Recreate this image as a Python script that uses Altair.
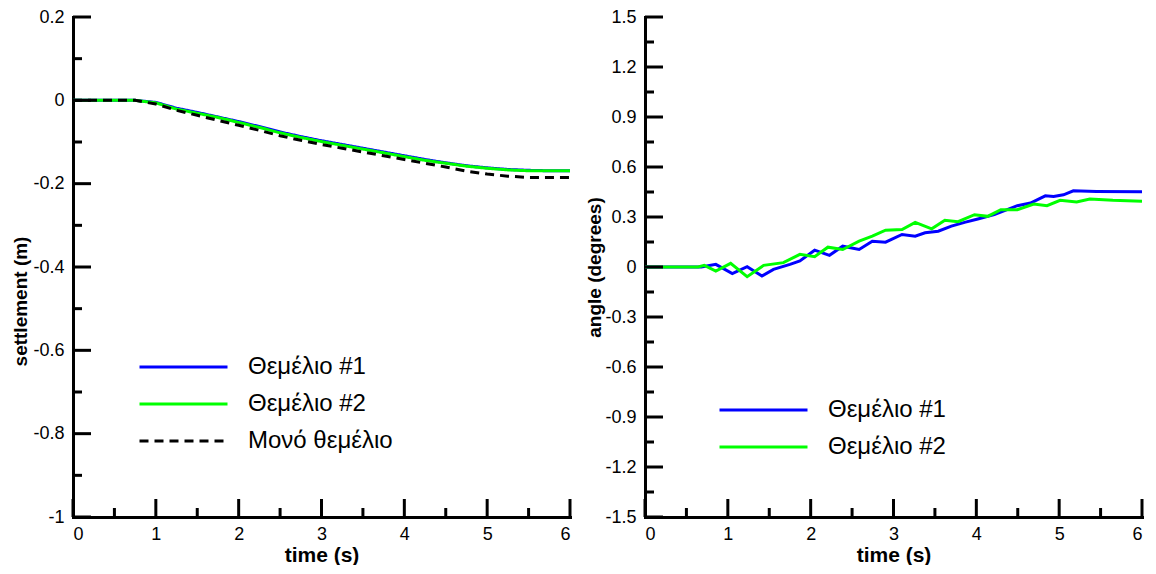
import altair as alt
import pandas as pd

FONT = "Liberation Sans"

# ---------------- data ----------------
t_left = [0.0, 0.25, 0.5, 0.75, 1.0, 1.25, 1.5, 1.75, 2.0, 2.25, 2.5, 2.75, 3.0,
          3.25, 3.5, 3.75, 4.0, 4.25, 4.5, 4.75, 5.0, 5.25, 5.5, 5.75, 6.0]
settle_f1 = [0.0, 0.0, 0.0, 0.0, -0.005, -0.019, -0.029, -0.040, -0.051, -0.063, -0.076,
             -0.087, -0.097, -0.106, -0.115, -0.124, -0.133, -0.142, -0.150, -0.157,
             -0.162, -0.166, -0.168, -0.169, -0.169]
settle_f2 = [0.0, 0.0, 0.0, 0.0, -0.006, -0.021, -0.031, -0.041, -0.053, -0.065, -0.078,
             -0.089, -0.099, -0.108, -0.117, -0.126, -0.135, -0.144, -0.151, -0.158,
             -0.163, -0.167, -0.169, -0.169, -0.169]
settle_single = [0.0, 0.0, 0.0, 0.0, -0.009, -0.024, -0.036, -0.048, -0.060, -0.072, -0.085,
                 -0.096, -0.106, -0.115, -0.124, -0.133, -0.142, -0.151, -0.160, -0.170,
                 -0.177, -0.182, -0.185, -0.185, -0.185]

t_ang1 = [0.0, 0.68, 0.855, 1.054, 1.233, 1.412, 1.551, 1.75, 1.87, 2.048, 2.227, 2.387,
          2.585, 2.744, 2.904, 3.103, 3.262, 3.381, 3.54, 3.699, 3.858, 4.018, 4.217,
          4.495, 4.654, 4.833, 4.933, 5.052, 5.171, 5.45, 6.0]
angle_f1 = [0.0, 0.0, 0.016, -0.040, 0.002, -0.054, -0.014, 0.016, 0.036, 0.101, 0.070,
            0.125, 0.105, 0.155, 0.149, 0.195, 0.185, 0.205, 0.215, 0.245, 0.268, 0.288,
            0.314, 0.368, 0.384, 0.427, 0.423, 0.433, 0.457, 0.453, 0.451]
t_ang2 = [0.0, 0.64, 0.716, 0.855, 1.034, 1.233, 1.432, 1.671, 1.87, 2.048, 2.208, 2.387,
          2.585, 2.744, 2.904, 3.103, 3.262, 3.461, 3.62, 3.779, 3.978, 4.137, 4.296,
          4.495, 4.694, 4.853, 5.012, 5.211, 5.37, 5.648, 6.0]
angle_f2 = [0.0, 0.0, 0.010, -0.024, 0.022, -0.058, 0.010, 0.026, 0.076, 0.062, 0.119,
            0.105, 0.155, 0.185, 0.221, 0.225, 0.268, 0.229, 0.280, 0.272, 0.314, 0.304,
            0.344, 0.344, 0.378, 0.368, 0.400, 0.390, 0.408, 0.400, 0.394]

names_left = ["Θεμέλιο #1", "Θεμέλιο #2", "Μονό θεμέλιο"]
names_right = ["Θεμέλιο #1", "Θεμέλιο #2"]
colors_left = ["#0000ff", "#00ff00", "#000000"]
colors_right = ["#0000ff", "#00ff00"]

x_major = [0, 1, 2, 3, 4, 5, 6]
x_minor = [0.5, 1.5, 2.5, 3.5, 4.5, 5.5]
yl_major = [-1.0, -0.8, -0.6, -0.4, -0.2, 0.0, 0.2]
yl_minor = [-0.9, -0.7, -0.5, -0.3, -0.1, 0.1]
yr_major = [-1.5, -1.2, -0.9, -0.6, -0.3, 0.0, 0.3, 0.6, 0.9, 1.2, 1.5]
yr_minor = [-1.35, -1.05, -0.75, -0.45, -0.15, 0.15, 0.45, 0.75, 1.05, 1.35]

# ---------------- tables ----------------
df_left = pd.concat([
    pd.DataFrame({"t": t_left, "v": settle_f1, "series": names_left[0], "o": 0}),
    pd.DataFrame({"t": t_left, "v": settle_f2, "series": names_left[1], "o": 1}),
    pd.DataFrame({"t": t_left, "v": settle_single, "series": names_left[2], "o": 2}),
])
df_right = pd.concat([
    pd.DataFrame({"t": t_ang1, "v": angle_f1, "series": names_right[0], "o": 0}),
    pd.DataFrame({"t": t_ang2, "v": angle_f2, "series": names_right[1], "o": 1}),
])

W = 497
H = 500
MAJ = 18
MIN = 9
LW = 3

label_expr = "(datum.value < 0 ? '-' : '') + format(abs(datum.value), '~g')"


def panel(df, names, colors, dashes, ydom, ymaj, ymin, ytitle, ytitle_x, ytitle_y,
          leg_x, leg_y):
    xenc = alt.X("t:Q", scale=alt.Scale(domain=[0, 6], nice=False, zero=False),
                 axis=alt.Axis(values=x_major, title="time (s)", labelExpr=label_expr,
                               titleY=38, titleBaseline="middle"))
    yenc = alt.Y("v:Q", scale=alt.Scale(domain=ydom, nice=False, zero=False),
                 axis=alt.Axis(values=ymaj, title=ytitle, labelExpr=label_expr,
                               titleX=ytitle_x, titleY=ytitle_y, titleAngle=270,
                               titleAlign="center", titleBaseline="middle"))
    legend = alt.Legend(title=None, orient="none", legendX=leg_x, legendY=leg_y,
                        symbolType="stroke", symbolSize=88 * 88, symbolStrokeWidth=LW,
                        labelFontSize=24, labelFont=FONT, labelOffset=19,
                        clipHeight=30, rowPadding=7, labelColor="#000000")
    enc = dict(x=xenc, y=yenc,
               color=alt.Color("series:N", scale=alt.Scale(domain=names, range=colors),
                               legend=legend),
               order=alt.Order("o:Q"))
    if dashes is not None:
        enc["strokeDash"] = alt.StrokeDash("series:N",
                                           scale=alt.Scale(domain=names, range=dashes),
                                           legend=legend)
    lines = alt.Chart(df).mark_line(strokeWidth=LW, strokeCap="butt").encode(**enc)

    ymaj_df = pd.DataFrame({"v": ymaj})
    ymin_df = pd.DataFrame({"v": ymin})
    xmaj_df = pd.DataFrame({"t": x_major})
    xmin_df = pd.DataFrame({"t": x_minor})
    tick = dict(color="black", strokeWidth=LW)
    yt1 = alt.Chart(ymaj_df).mark_rule(**tick).encode(y=yenc, x=alt.value(0), x2=alt.value(MAJ))
    yt2 = alt.Chart(ymin_df).mark_rule(**tick).encode(y=yenc, x=alt.value(0), x2=alt.value(MIN))
    xt1 = alt.Chart(xmaj_df).mark_rule(**tick).encode(x=xenc, y=alt.value(H), y2=alt.value(H - MAJ))
    xt2 = alt.Chart(xmin_df).mark_rule(**tick).encode(x=xenc, y=alt.value(H), y2=alt.value(H - MIN))
    return alt.layer(lines, yt1, yt2, xt1, xt2).properties(width=W, height=H)


left = panel(df_left, names_left, colors_left, [[1, 0], [1, 0], [9, 6]],
             [-1.0, 0.2], yl_major, yl_minor, "settlement (m)", -53, 284, 65, 335)
right = panel(df_right, names_right, colors_right, None,
              [-1.5, 1.5], yr_major, yr_minor, "angle (degrees)", -51, H / 2, 73, 378)

chart = alt.hconcat(left, right, spacing=75, bounds="flush").resolve_scale(
    color="independent", strokeDash="independent"
).resolve_legend(color="independent", strokeDash="independent").properties(
    padding={"left": 3, "top": 0, "right": 0, "bottom": 0}
).configure(font=FONT).configure_view(stroke=None).configure_axis(
    domainColor="black", domainWidth=LW, domainCap="square", ticks=False, tickSize=0,
    grid=False, labelFontSize=18, labelColor="black", labelFont=FONT, labelPadding=9,
    titleFontSize=19, titleFontWeight="bold", titleColor="black", titleFont=FONT
).configure_axisX(titleFontSize=21, labelPadding=8)

chart.save("out.html", embed_options={"renderer": "svg", "actions": False})
